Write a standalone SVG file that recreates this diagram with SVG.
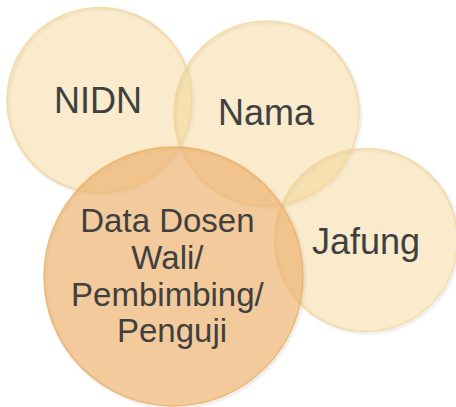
<svg xmlns="http://www.w3.org/2000/svg" width="456" height="407" viewBox="0 0 456 407">
<defs>
<filter id="bl" x="-10%" y="-10%" width="120%" height="120%">
<feGaussianBlur stdDeviation="1"/>
</filter>
</defs>
<style>
.sh{fill:none;stroke:#8c8c8c;stroke-opacity:0.2;stroke-width:2.5;filter:url(#bl)}
.lt{fill:#f1d28e;fill-opacity:0.45;stroke:#f5d48e;stroke-opacity:0.7;stroke-width:1.5}
.dk{fill:#ecb470;fill-opacity:0.7;stroke:#efaa55;stroke-opacity:0.7;stroke-width:1.5}
text{font-family:"Liberation Sans",Arial,sans-serif;fill:#404040;text-anchor:middle}
</style>
<g id="nidn">
<circle class="sh" cx="101" cy="101.5" r="92.5"/>
<circle class="lt" cx="99.5" cy="100" r="92.5"/>
<text x="98" y="113" font-size="36">NIDN</text>
</g>
<g id="nama">
<circle class="sh" cx="268" cy="115" r="92.5"/>
<circle class="lt" cx="266.5" cy="113.5" r="92.5"/>
<text x="266" y="125" font-size="36">Nama</text>
</g>
<g id="jafung">
<circle class="sh" cx="367.5" cy="241.5" r="91.5"/>
<circle class="lt" cx="366" cy="240" r="91.5"/>
<text x="366" y="254" font-size="36">Jafung</text>
</g>
<g id="data">
<circle class="sh" cx="175" cy="278" r="129.5"/>
<circle class="dk" cx="173.5" cy="276.5" r="129.5"/>
<text font-size="33">
<tspan x="172" y="232">Data Dosen</tspan>
<tspan x="172" y="269">Wali/</tspan>
<tspan x="172" y="306">Pembimbing/</tspan>
<tspan x="172" y="342">Penguji</tspan>
</text>
</g>
<g id="connectors"/>
</svg>
